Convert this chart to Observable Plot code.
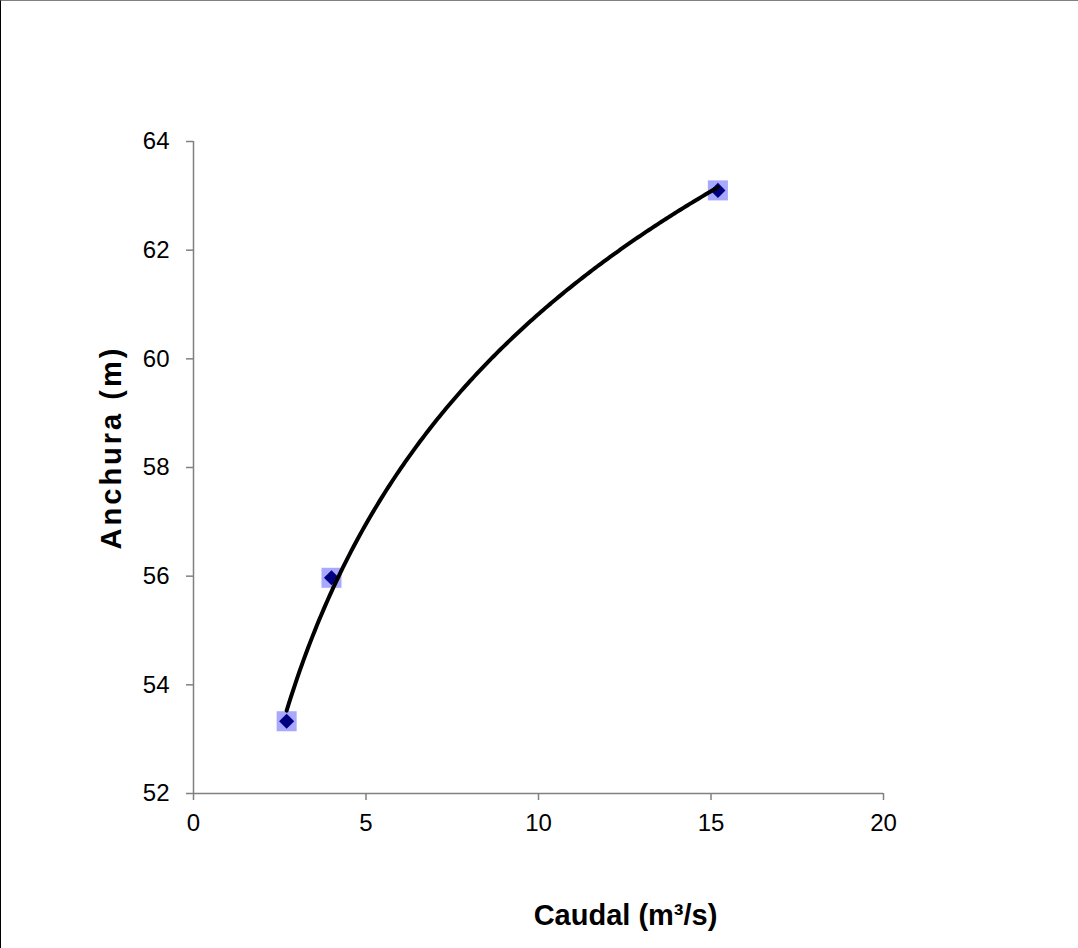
<!DOCTYPE html>
<html>
<head>
<meta charset="utf-8">
<script src="https://cdn.jsdelivr.net/npm/d3@7"></script>
<script src="https://cdn.jsdelivr.net/npm/@observablehq/plot@0.6"></script>
<style>
  html, body { margin: 0; padding: 0; background: #fff; }
  #wrap { position: relative; width: 1078px; height: 948px; }
  #edge { position: absolute; left: 0; top: 0; width: 1078px; height: 948px; box-sizing: border-box;
          border-top: 1px solid #808080; border-left: 1px solid #000; pointer-events: none; }
  svg g[aria-label$="tick label"] { fill: #000; }
</style>
</head>
<body>
<div id="wrap"><div id="edge"></div></div>
<script>
// Data
const caudal = [2.7, 4.0, 15.2];          // m³/s
const anchura = [53.33, 55.97, 63.10];   // m
const xTicks = [0, 5, 10, 15, 20];
const yTicks = [52, 54, 56, 58, 60, 62, 64];
const xTitle = "Caudal (m³/s)";
const yTitle = "Anchura (m)";

const points = caudal.map((c, i) => ({x: c, y: anchura[i]}));

// Logarithmic trendline (least squares fit of y = a·ln(x) + b on the data)
const lx = caudal.map(Math.log);
const mx = d3.mean(lx), my = d3.mean(anchura);
const a = d3.sum(lx, (v, i) => (v - mx) * (anchura[i] - my)) / d3.sum(lx, v => (v - mx) ** 2);
const b = my - a * mx;
const [x0, x1] = d3.extent(caudal);
const trend = d3.range(0, 201).map(k => {
  const x = x0 + (x1 - x0) * k / 200;
  return {x, y: a * Math.log(x) + b};
});

const axisGray = "#808080";

const chart = Plot.plot({
  width: 1078,
  height: 948,
  marginLeft: 193,
  marginRight: 195,
  marginTop: 141,
  marginBottom: 155,
  style: {fontFamily: "'Liberation Sans', Arial, sans-serif", fontSize: "24px", background: "#fff", color: "#000"},
  x: {domain: [0, 20]},
  y: {domain: [52, 64]},
  marks: [
    Plot.axisX({ticks: xTicks, tickSize: 7, tickPadding: 13, fontSize: 24, stroke: axisGray, strokeWidth: 1.5, label: null}),
    Plot.axisY({ticks: yTicks, tickSize: 7, tickPadding: 17, fontSize: 24, stroke: axisGray, strokeWidth: 1.5, label: null}),
    Plot.ruleX([0], {y1: 52, y2: 64, stroke: axisGray, strokeWidth: 1.5}),
    Plot.ruleY([52], {x1: 0, x2: 20, stroke: axisGray, strokeWidth: 1.5}),
    Plot.dot(points, {x: "x", y: "y", symbol: "square", r: 11.3, fill: "#9999ff", fillOpacity: 0.85}),
    Plot.dot(points, {x: "x", y: "y", symbol: "diamond2", r: 6.8, fill: "#000080"}),
    Plot.line(trend, {x: "x", y: "y", stroke: "#000", strokeWidth: 4, curve: "linear"}),
    Plot.text([xTitle], {frameAnchor: "bottom", dx: 87, dy: 131, text: d => d, fontWeight: "bold", fontSize: 29, fill: "#000"}),
    Plot.text([yTitle], {frameAnchor: "left", textAnchor: "middle", rotate: -90, dx: -82, dy: -20, text: d => d, fontWeight: "bold", fontSize: 29, fill: "#000"})
  ]
});
d3.select(chart).selectAll("text")
  .filter(function() { return this.textContent === yTitle; })
  .style("letter-spacing", "3px");
document.getElementById("wrap").prepend(chart);
</script>
</body>
</html>
